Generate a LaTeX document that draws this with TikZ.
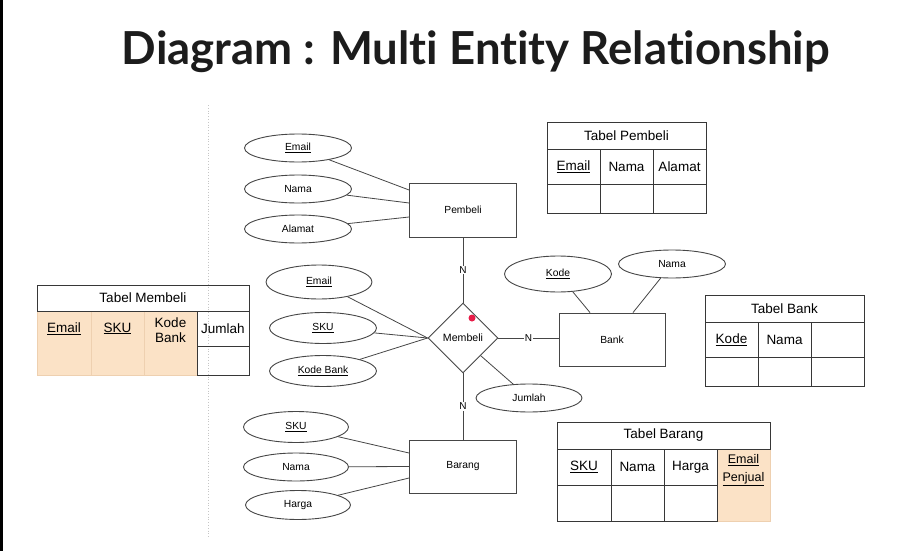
\documentclass[tikz,border=0pt]{standalone}
\usepackage{fontspec}
\setmainfont{Liberation Sans}
\newfontfamily\titlefont[Ligatures={NoCommon}]{Lato}
\usetikzlibrary{shapes.geometric,calc}
\definecolor{peach}{RGB}{251,226,198}
\definecolor{peachline}{RGB}{238,208,176}
\definecolor{ln}{RGB}{70,70,70}
\definecolor{tb}{RGB}{55,55,55}
\definecolor{reddot}{RGB}{232,28,72}
\definecolor{titlecol}{RGB}{28,28,28}
\begin{document}
\begin{tikzpicture}[x=1pt,y=-1pt,
  attr/.style={ellipse, draw=ln, line width=0.9pt, minimum width=107pt, minimum height=28pt, inner sep=0pt, font=\fontsize{10.3}{12}\selectfont},
  ent/.style={rectangle, draw=ln, line width=0.9pt, minimum width=107pt, minimum height=54pt, inner sep=0pt, font=\fontsize{10.3}{12}\selectfont},
  rel/.style={diamond, draw=ln, line width=0.9pt, minimum width=70pt, minimum height=70pt, inner sep=0pt, font=\fontsize{10.6}{12}\selectfont},
  conn/.style={draw=ln, line width=0.8pt},
  card/.style={fill=white, inner sep=1pt, font=\fontsize{10}{12}\selectfont},
  tcell/.style={font=\fontsize{13.5}{15.5}\selectfont, inner sep=0pt, align=center},
  tline/.style={draw=tb, line width=1pt}
]
\useasboundingbox (0,0) rectangle (908,551);
\fill[white] (0,0) rectangle (908,551);
\fill[black] (0,0) rectangle (3,551);

% title
\node[anchor=base, text=titlecol] (title) at (476,65) {\resizebox{708pt}{!}{\titlefont\bfseries Diagram : Multi Entity Relationship}};

% dotted separator
\draw[dotted, draw=gray!45, line width=0.8pt] (208,105) -- (208,537);

% ER entities
\node[ent] (pembeli) at (463,210) {Pembeli};
\node[rel] (membeli) at (463,338) {Membeli};
\node[ent, minimum width=106pt, minimum height=53pt] (bank) at (612,339.5) {Bank};
\node[ent, minimum height=53pt] (barang) at (463,466.5) {Barang};

% attributes Pembeli
\node[attr] (pEmail) at (298,148) {\underline{Email}};
\node[attr] (pNama) at (298,189) {Nama};
\node[attr] (pAlamat) at (298,229) {Alamat};
% attributes Membeli
\node[attr, minimum height=34pt, minimum width=106pt] (mEmail) at (319,282) {\underline{Email}};
\node[attr, minimum height=31pt] (mSKU) at (323,328) {\underline{SKU}};
\node[attr, minimum height=31pt] (mKode) at (323,371) {\underline{Kode Bank}};
\node[attr, minimum width=106pt] (mJumlah) at (529,398) {Jumlah};
% attributes Bank
\node[attr, minimum height=36pt] (bKode) at (558,274) {\underline{Kode}};
\node[attr] (bNama) at (672,264) {Nama};
% attributes Barang
\node[attr, minimum height=31pt, minimum width=105pt] (gSKU) at (296,427) {\underline{SKU}};
\node[attr, minimum width=105pt] (gNama) at (296,467) {Nama};
\node[attr, minimum height=29pt, minimum width=105pt] (gHarga) at (298,505) {Harga};

% connectors
\draw[conn] (pEmail) -- ([yshift=20pt]pembeli.west);
\draw[conn] (pNama) -- ([yshift=7pt]pembeli.west);
\draw[conn] (pAlamat) -- ([yshift=-7pt]pembeli.west);
\draw[conn] (pembeli.south) -- node[card] (n1) {N} (membeli.north);
\draw[conn] (membeli.east) -- node[card] (n2) {N} (bank.west |- membeli.east);
\draw[conn] (membeli.south) -- node[card] (n3) {N} (barang.north);
\draw[conn] (mEmail) -- (membeli.west);
\draw[conn] (mSKU) -- (membeli.west);
\draw[conn] (mKode) -- (membeli.west);
\draw[conn] (membeli.south east) -- (mJumlah);
\draw[conn] (bKode) -- ([xshift=-22pt]bank.north);
\draw[conn] (bNama) -- ([xshift=21pt]bank.north);
\draw[conn] (gSKU) -- ([yshift=13.5pt]barang.west);
\draw[conn] (gNama) -- (barang.west);
\draw[conn] (gHarga) -- ([yshift=-11.5pt]barang.west);

\fill[reddot] (472,318) circle (3.5pt);

% Tabel Pembeli
\draw[tline] (547,122) rectangle (706,213);
\draw[tline] (547,149) -- (706,149);
\draw[tline] (547,184) -- (706,184);
\draw[tline] (600,149) -- (600,213);
\draw[tline] (653,149) -- (653,213);
\node[tcell] (tpTitle) at (626.5,135.5) {Tabel Pembeli};
\node[tcell] (tpEmail) at (573.5,166.5) {\underline{Email}};
\node[tcell] (tpNama) at (626.5,166.5) {Nama};
\node[tcell] (tpAlamat) at (679.5,166.5) {Alamat};

% Tabel Bank
\draw[tline] (705,295) rectangle (864,386);
\draw[tline] (705,322) -- (864,322);
\draw[tline] (705,357) -- (864,357);
\draw[tline] (758,322) -- (758,386);
\draw[tline] (811,322) -- (811,386);
\node[tcell] (tbTitle) at (784.5,308.5) {Tabel Bank};
\node[tcell] (tbKode) at (731.5,339.5) {\underline{Kode}};
\node[tcell] (tbNama) at (784.5,339.5) {Nama};

% Tabel Barang
\draw[tline] (557,422) rectangle (770,521);
\draw[tline] (557,449) -- (770,449);
\draw[tline] (557,485) -- (717,485);
\draw[tline] (611,449) -- (611,521);
\draw[tline] (664,449) -- (664,521);
\draw[tline] (717,449) -- (717,521);
\fill[peach] (717.5,449.5) rectangle (770.5,521.5);
\draw[peachline, line width=0.8pt] (770,449.5) -- (770,521) -- (717.5,521);
\node[tcell] (tgTitle) at (663.5,435.5) {Tabel Barang};
\node[tcell] (tgSKU) at (584,467) {\underline{SKU}};
\node[tcell] (tgNama) at (637.5,467) {Nama};
\node[tcell] (tgHarga) at (690.5,467) {Harga};
\node[tcell, font=\fontsize{12.5}{18}\selectfont] (tgEmail) at (743.5,470) {\underline{Email}\\\underline{Penjual}};

% Tabel Membeli
\fill[peach] (37,311) rectangle (197,375);
\draw[peachline, line width=0.8pt] (37,311) -- (37,375) -- (197,375);
\draw[peachline, line width=0.8pt] (91,311) -- (91,375);
\draw[peachline, line width=0.8pt] (144,311) -- (144,375);
\draw[tline] (37,285) rectangle (249,311);
\draw[tline] (197,311) rectangle (249,375);
\draw[tline] (197,346) -- (249,346);
\node[tcell] (tmTitle) at (143,298) {Tabel Membeli};
\node[tcell] (tmEmail) at (64,328.5) {\underline{Email}};
\node[tcell] (tmSKU) at (117.5,328.5) {\underline{SKU}};
\node[tcell, font=\fontsize{13.5}{15}\selectfont] (tmKode) at (170.5,330) {Kode\\Bank};
\node[tcell] (tmJumlah) at (223,328.5) {Jumlah};
\end{tikzpicture}
\end{document}
